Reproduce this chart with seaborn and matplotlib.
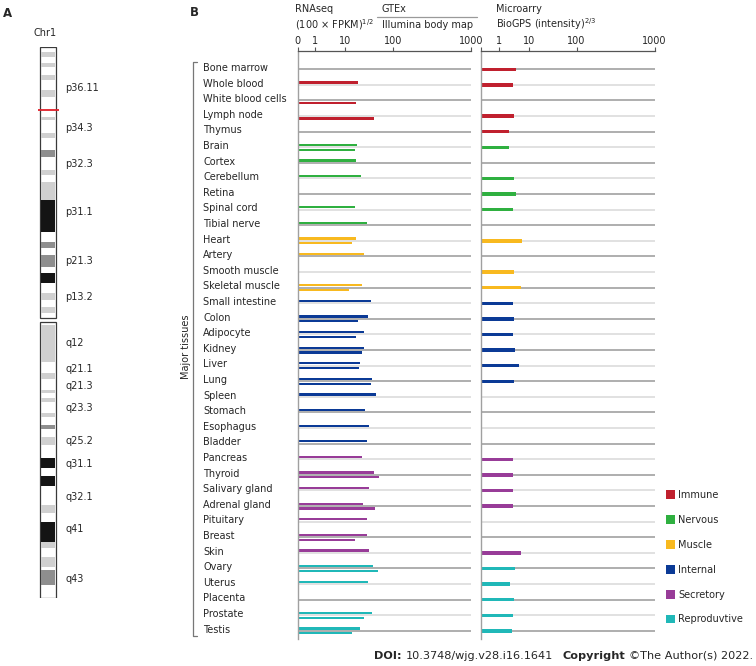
import numpy as np
import pandas as pd
import matplotlib
matplotlib.use("Agg")
import matplotlib.pyplot as plt
from matplotlib.patches import Patch
import seaborn as sns

# ---- panel B data ----
tissues = [
    "Bone marrow", "Whole blood", "White blood cells", "Lymph node", "Thymus",
    "Brain", "Cortex", "Cerebellum", "Retina", "Spinal cord", "Tibial nerve",
    "Heart", "Artery", "Smooth muscle", "Skeletal muscle",
    "Small intestine", "Colon", "Adipocyte", "Kidney", "Liver", "Lung", "Spleen",
    "Stomach", "Esophagus", "Bladder",
    "Pancreas", "Thyroid", "Salivary gland", "Adrenal gland", "Pituitary", "Breast", "Skin",
    "Ovary", "Uterus", "Placenta", "Prostate", "Testis",
]
systems = (["Immune"] * 5 + ["Nervous"] * 6 + ["Muscle"] * 4 + ["Internal"] * 10
           + ["Secretory"] * 7 + ["Reproductive"] * 5)
system_names = ["Immune", "Nervous", "Muscle", "Internal", "Secretory", "Reproductive"]
legend_labels = ["Immune", "Nervous", "Muscle", "Internal", "Secretory", "Reproduvtive"]
system_colors = ["#c0202e", "#2fb040", "#f8b91f", "#0b3a96", "#983c98", "#20b8b8"]

nan = np.nan
# RNAseq, GTEx (upper bar of each row)
gtex = [nan, 18.7, nan, nan, nan, 17.6, 17, 21.4, nan, 15.7, 28,
        17, 24.3, nan, 22,
        35, 30.5, 24.3, 24.3, 20, 36.8, 44, 25.8, 31.3, 28,
        22.4, 39, 31.3, 23, 28, 28, 31.3,
        38, 30.5, nan, 36.8, 20]
# RNAseq, Illumina body map (lower bar of each row)
illumina = [nan, nan, 17, 39, nan, 15.7, nan, nan, nan, nan, nan,
            13.6, nan, nan, 11.8,
            nan, 18.4, 17, 22.4, 19.3, 34, nan, nan, nan, nan,
            nan, 51.6, nan, 42.6, nan, 15.7, nan,
            49, nan, nan, 24.3, 13.6]
# Microarray, BioGPS
biogps = [3.65, 2.92, nan, 3.28, 2.25, 2.25, nan, 3.28, 3.65, 2.92, nan,
          5.9, nan, 3.14, 5.46,
          2.92, 3.14, 2.98, 3.45, 4.69, 3.14, nan, nan, nan, nan,
          2.92, 3.05, 2.92, 3.05, nan, nan, 5.6,
          3.38, 2.42, 3.2, 3.05, 2.69]

scale_ticks = [0, 1, 10, 100, 1000]
scale_frac = [0, 0.1, 0.275, 0.55, 1.0]

# ---- panel A data: chromosome 1 ideogram (Mb) ----
chr_len = 248.9
centromere = 123.4
gene_pos = 28.5
band_start = [2.1, 7.2, 12.7, 19.4, 31.6, 38.9, 46.5, 55.6, 61.0, 69.1, 88.1, 94.0, 102.1,
              111.2, 117.5,
              125.6, 147.3, 155.0, 158.6, 165.4, 170.8, 176.2, 185.7, 193.9, 206.9,
              214.6, 223.7, 230.5, 236.4]
band_end = [4.4, 9.0, 14.9, 22.6, 33.0, 41.1, 49.7, 57.8, 69.1, 83.6, 90.8, 99.4, 106.6,
            114.3, 120.2,
            142.3, 150.0, 156.3, 160.4, 167.2, 172.6, 179.8, 190.2, 198.4, 210.6,
            223.7, 226.4, 235.0, 243.1]
band_stain = ["light", "light", "light", "light", "light", "light", "mid", "light", "light",
              "dark", "mid", "mid", "dark", "light", "light",
              "light", "light", "light", "light", "light", "mid", "light", "dark", "dark",
              "light", "dark", "light", "light", "mid"]
stain_colors = {"light": "#d0d0d0", "mid": "#8e8e8e", "dark": "#141414"}
band_labels = ["p36.11", "p34.3", "p32.3", "p31.1", "p21.3", "p13.2", "q12", "q21.1",
               "q21.3", "q23.3", "q25.2", "q31.1", "q32.1", "q41", "q43"]
band_label_pos = [18.7, 36.5, 52.9, 74.7, 96.6, 112.8, 133.9, 145.5, 153.2, 163.0,
                  178.0, 188.4, 203.2, 217.8, 240.4]


def _fwd(x):
    x = np.asarray(x, dtype=float)
    lx = np.log10(np.clip(x, 1, None))
    return np.where(x < 1, x * scale_frac[1], np.interp(lx, [0, 1, 2, 3], scale_frac[1:]))


def _inv(f):
    f = np.asarray(f, dtype=float)
    return np.where(f < scale_frac[1], f / scale_frac[1],
                    10 ** np.interp(f, scale_frac[1:], [0, 1, 2, 3]))


sns.set_theme(style="white")
plt.rcParams["font.family"] = ["DejaVu Sans"]
plt.rcParams["font.size"] = 7

W, H = 756, 666
fig = plt.figure(figsize=(W / 100, H / 100), dpi=100)


def px_axes(x0, y0, x1, y1):
    return fig.add_axes([x0 / W, 1 - y1 / H, (x1 - x0) / W, (y1 - y0) / H])


ax_bg = px_axes(0, 0, W, H)
ax_bg.set_xlim(0, W)
ax_bg.set_ylim(H, 0)
ax_bg.axis("off")

# ---- panel A ----
ax_chr = px_axes(0, 47, 180, 598)
ax_chr.set_xlim(0, 180)
ax_chr.set_ylim(chr_len, 0)
ax_chr.axis("off")
chr_x, chr_w = 47.8, 15.5
ax_chr.bar(chr_x, centromere - 0.9, bottom=0, width=chr_w, color="white",
           edgecolor="#3a3a3a", lw=0.9, zorder=1)
ax_chr.bar(chr_x, chr_len - centromere - 0.9, bottom=centromere + 0.9, width=chr_w,
           color="white", edgecolor="#3a3a3a", lw=0.9, zorder=1)
ax_chr.bar([chr_x] * len(band_start), np.subtract(band_end, band_start), bottom=band_start,
           width=chr_w - 1.2, color=[stain_colors[s] for s in band_stain], lw=0, zorder=2)
ax_chr.hlines(gene_pos, chr_x - 10, chr_x + 11, color="#e0202a", lw=1.3, zorder=3)
for lab, pos in zip(band_labels, band_label_pos):
    ax_chr.text(65, pos, lab, ha="left", va="center", fontsize=7)

ax_bg.text(3, 16.7, "A", fontsize=8.5, fontweight="bold", va="baseline")
ax_bg.text(45, 36, "Chr1", fontsize=7, ha="center", va="baseline")

# ---- panel B ----
pal = dict(zip(system_names, system_colors))
rows = np.arange(len(tissues))
row_colors = [pal[s] for s in systems]
line_colors = ["#a8a8a8" if i % 2 == 0 else "#dedede" for i in rows]

ax_rna = px_axes(297.7, 51, 471, 639)
ax_ma = px_axes(481.3, 51, 654.6, 639)

for ax in (ax_rna, ax_ma):
    ax.set_xscale("function", functions=(_fwd, _inv))
    ax.hlines(rows, 0, 1000, colors=line_colors, lw=1.3, zorder=1)

for vals, off in ((gtex, -0.15), (illumina, 0.15)):
    idx = [i for i, v in enumerate(vals) if not np.isnan(v)]
    ax_rna.barh(rows[idx] + off, [vals[i] for i in idx], height=0.14, left=0,
                color=[row_colors[i] for i in idx], lw=0, zorder=2)

df = pd.DataFrame({"tissue": tissues, "system": systems, "biogps": biogps})
sns.barplot(data=df.dropna(), x="biogps", y="tissue", hue="system", order=tissues,
            hue_order=system_names, palette=pal, dodge=False, width=0.22,
            errorbar=None, legend=False, saturation=1, orient="h", ax=ax_ma,
            lw=0, zorder=2)

for ax in (ax_rna, ax_ma):
    ax.set_xlim(0, 1000)
    ax.set_ylim(36.52, -1.173)
    ax.set_xlabel("")
    ax.set_ylabel("")
    ax.set_facecolor("none")
    ax.xaxis.set_ticks_position("top")
    ax.tick_params(axis="x", which="major", direction="out", length=3, width=0.8,
                   color="#555555", pad=0.5, labelsize=7, top=True, bottom=False,
                   labeltop=True, labelbottom=False)
    ax.tick_params(axis="x", which="minor", length=0)
    for side in ("right", "bottom"):
        ax.spines[side].set_visible(False)
    ax.spines["top"].set_color("#555555")
    ax.spines["top"].set_linewidth(0.9)
    ax.spines["left"].set_color("#a0a0a0")
    ax.spines["left"].set_linewidth(1.0)

ax_rna.set_xticks(scale_ticks, [str(t) for t in scale_ticks])
# the microarray panel leaves its zero unlabelled
ax_ma.set_xticks(scale_ticks, [""] + [str(t) for t in scale_ticks[1:]])

ax_ma.set_yticks([])
# labels sit slightly above the row line, as in the source figure
ax_rna.set_yticks(rows - 0.15, tissues)
ax_rna.tick_params(axis="y", length=0, pad=(297.7 - 203) * 0.72, labelsize=7, left=False)
for lab in ax_rna.get_yticklabels():
    lab.set_ha("left")

ax_bg.text(190, 16, "B", fontsize=8.5, fontweight="bold", va="baseline")
ax_bg.text(295, 12.5, "RNAseq", fontsize=7, va="baseline")
ax_bg.text(295, 28.5, r"(100 × FPKM)$^{1/2}$", fontsize=7, va="baseline")
ax_bg.text(381.7, 12.5, "GTEx", fontsize=7, va="baseline")
ax_bg.plot([377, 477], [16.5, 16.5], color="#9a9a9a", lw=0.9)
ax_bg.text(381.7, 28.5, "Illumina body map", fontsize=7, va="baseline")
ax_bg.text(496, 12.5, "Microarry", fontsize=7, va="baseline")
ax_bg.text(496, 28.5, r"BioGPS (intensity)$^{2/3}$", fontsize=7, va="baseline")

ax_bg.text(186, 347, "Major tissues", fontsize=7, rotation=90, ha="center", va="center")
ax_bg.plot([197, 193, 193, 197], [62, 62, 636, 636], color="#777777", lw=0.9)

handles = [Patch(facecolor=c, edgecolor="none", label=l)
           for c, l in zip(system_colors, legend_labels)]
fig.legend(handles=handles, loc="upper left", bbox_to_anchor=(665.5 / W, 1 - 490 / H),
           frameon=False, fontsize=7, handlelength=1.0, handleheight=1.0,
           handletextpad=0.3, labelspacing=1.53, borderpad=0, borderaxespad=0)

# footer: bold and regular pieces laid out right-aligned
renderer = fig.canvas.get_renderer()
pieces = [("DOI:", "bold"), ("10.3748/wjg.v28.i16.1641", "normal"),
          ("Copyright", "bold"), ("©The Author(s) 2022.", "normal")]
gaps = [4, 9, 4, 0]
foot = [ax_bg.text(0, 659, s, fontweight=w, fontsize=8.1, va="baseline") for s, w in pieces]
widths = [t.get_window_extent(renderer).width for t in foot]
x = 753 - sum(widths) - sum(gaps)
for t, w, g in zip(foot, widths, gaps):
    t.set_x(x)
    x += w + g

fig.savefig("out.png", dpi=100)
